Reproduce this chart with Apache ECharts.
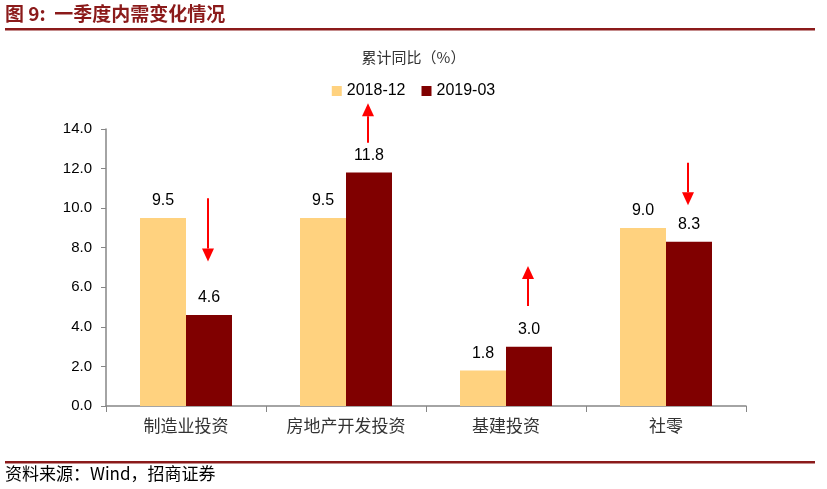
<!DOCTYPE html>
<html>
<head>
<meta charset="utf-8">
<script src="https://cdn.jsdelivr.net/npm/echarts@6/dist/echarts.min.js"></script>
<style>
  html, body { margin: 0; padding: 0; background: #fff; }
  #main { width: 827px; height: 489px; }
</style>
</head>
<body>
<div id="main"></div>
<script>
// ------------------------------
// Data
// ------------------------------
var categories = ['制造业投资', '房地产开发投资', '基建投资', '社零'];
var seriesNames = ['2018-12', '2019-03'];
var values2018 = [9.5, 9.5, 1.8, 9.0];
var values2019 = [4.6, 11.8, 3.0, 8.3];
var yTicks = [0, 2, 4, 6, 8, 10, 12, 14];
// arrows drawn over the 2019-03 bar: [category index, start value, end value]
var arrows = [
    [0, 10.5, 7.3],
    [1, 13.3, 15.3],
    [2, 5.05, 7.07],
    [3, 12.3, 10.15]
];

var barWidth = 46;
var cnFont = '"Noto Sans CJK SC", sans-serif';
var numFont = '"Liberation Sans", Arial, sans-serif';

var chart = echarts.init(document.getElementById('main'));

var option = {
    animation: false,
    color: ['#FFD27F', '#800000'],

    // Page decorations: heading, rules, source line
    graphic: [
        {
            type: 'text', left: 5, top: 4,
            style: { text: '图 9:  一季度内需变化情况', fill: '#8B1A1A', font: 'bold 19px ' + cnFont }
        },
        {
            type: 'rect', shape: { x: 5, y: 28, width: 810, height: 2.5 },
            style: { fill: '#8B1A1A' }
        },
        {
            type: 'rect', shape: { x: 5, y: 461, width: 810, height: 2.5 },
            style: { fill: '#8B1A1A' }
        },
        {
            type: 'text', left: 5, top: 465,
            style: { text: '资料来源：Wind，招商证券', fill: '#000', font: '17px ' + cnFont }
        }
    ],

    title: {
        text: '累计同比（%）',
        left: 'center',
        top: 45,
        textStyle: { fontFamily: cnFont, fontSize: 15, fontWeight: 'normal', color: '#333' }
    },

    legend: {
        data: seriesNames,
        top: 78,
        left: 'center',
        itemWidth: 10,
        itemHeight: 10,
        itemGap: 16,
        icon: 'rect',
        textStyle: { fontFamily: numFont, fontSize: 16, color: '#000' }
    },

    grid: { left: 106, right: 81, top: 129, bottom: 83 },

    xAxis: {
        type: 'category',
        data: categories,
        axisLine: { lineStyle: { color: '#868686', width: 1.5 } },
        axisTick: { show: true, length: 6, lineStyle: { color: '#868686' } },
        axisLabel: { fontFamily: cnFont, fontSize: 17, color: '#333', margin: 11 }
    },

    yAxis: {
        type: 'value',
        min: yTicks[0],
        max: yTicks[yTicks.length - 1],
        interval: 2,
        axisLine: { show: true, lineStyle: { color: '#868686', width: 1.5 } },
        axisTick: { show: true, length: 5, lineStyle: { color: '#868686' } },
        splitLine: { show: false },
        axisLabel: {
            fontFamily: numFont, fontSize: 15, color: '#000', margin: 14,
            formatter: function (v) { return v.toFixed(1); }
        }
    },

    series: [
        {
            name: seriesNames[0],
            type: 'bar',
            barWidth: barWidth,
            barGap: '0%',
            data: values2018,
            label: {
                show: true, position: 'top', distance: 9,
                fontFamily: numFont, fontSize: 16, color: '#000',
                formatter: function (p) { return p.value.toFixed(1); }
            }
        },
        {
            name: seriesNames[1],
            type: 'bar',
            barWidth: barWidth,
            barGap: '0%',
            data: values2019,
            label: {
                show: true, position: 'top', distance: 9,
                fontFamily: numFont, fontSize: 16, color: '#000',
                formatter: function (p) { return p.value.toFixed(1); }
            }
        },
        {
            // red change arrows
            type: 'custom',
            clip: false,
            silent: true,
            data: arrows,
            encode: { x: 0, y: [1, 2] },
            renderItem: function (params, api) {
                var c = api.value(0);
                var p1 = api.coord([c, api.value(1)]);
                var p2 = api.coord([c, api.value(2)]);
                var x = p1[0] + barWidth / 2 - 1;
                var dir = p2[1] > p1[1] ? 1 : -1;
                var headLen = 13, headHalf = 6;
                return {
                    type: 'group',
                    children: [
                        {
                            type: 'line',
                            shape: { x1: x, y1: p1[1], x2: x, y2: p2[1] - dir * headLen },
                            style: { stroke: '#FF0000', lineWidth: 2 }
                        },
                        {
                            type: 'polygon',
                            shape: {
                                points: [
                                    [x - headHalf, p2[1] - dir * headLen],
                                    [x + headHalf, p2[1] - dir * headLen],
                                    [x, p2[1]]
                                ]
                            },
                            style: { fill: '#FF0000' }
                        }
                    ]
                };
            }
        }
    ]
};

chart.setOption(option);
</script>
</body>
</html>
